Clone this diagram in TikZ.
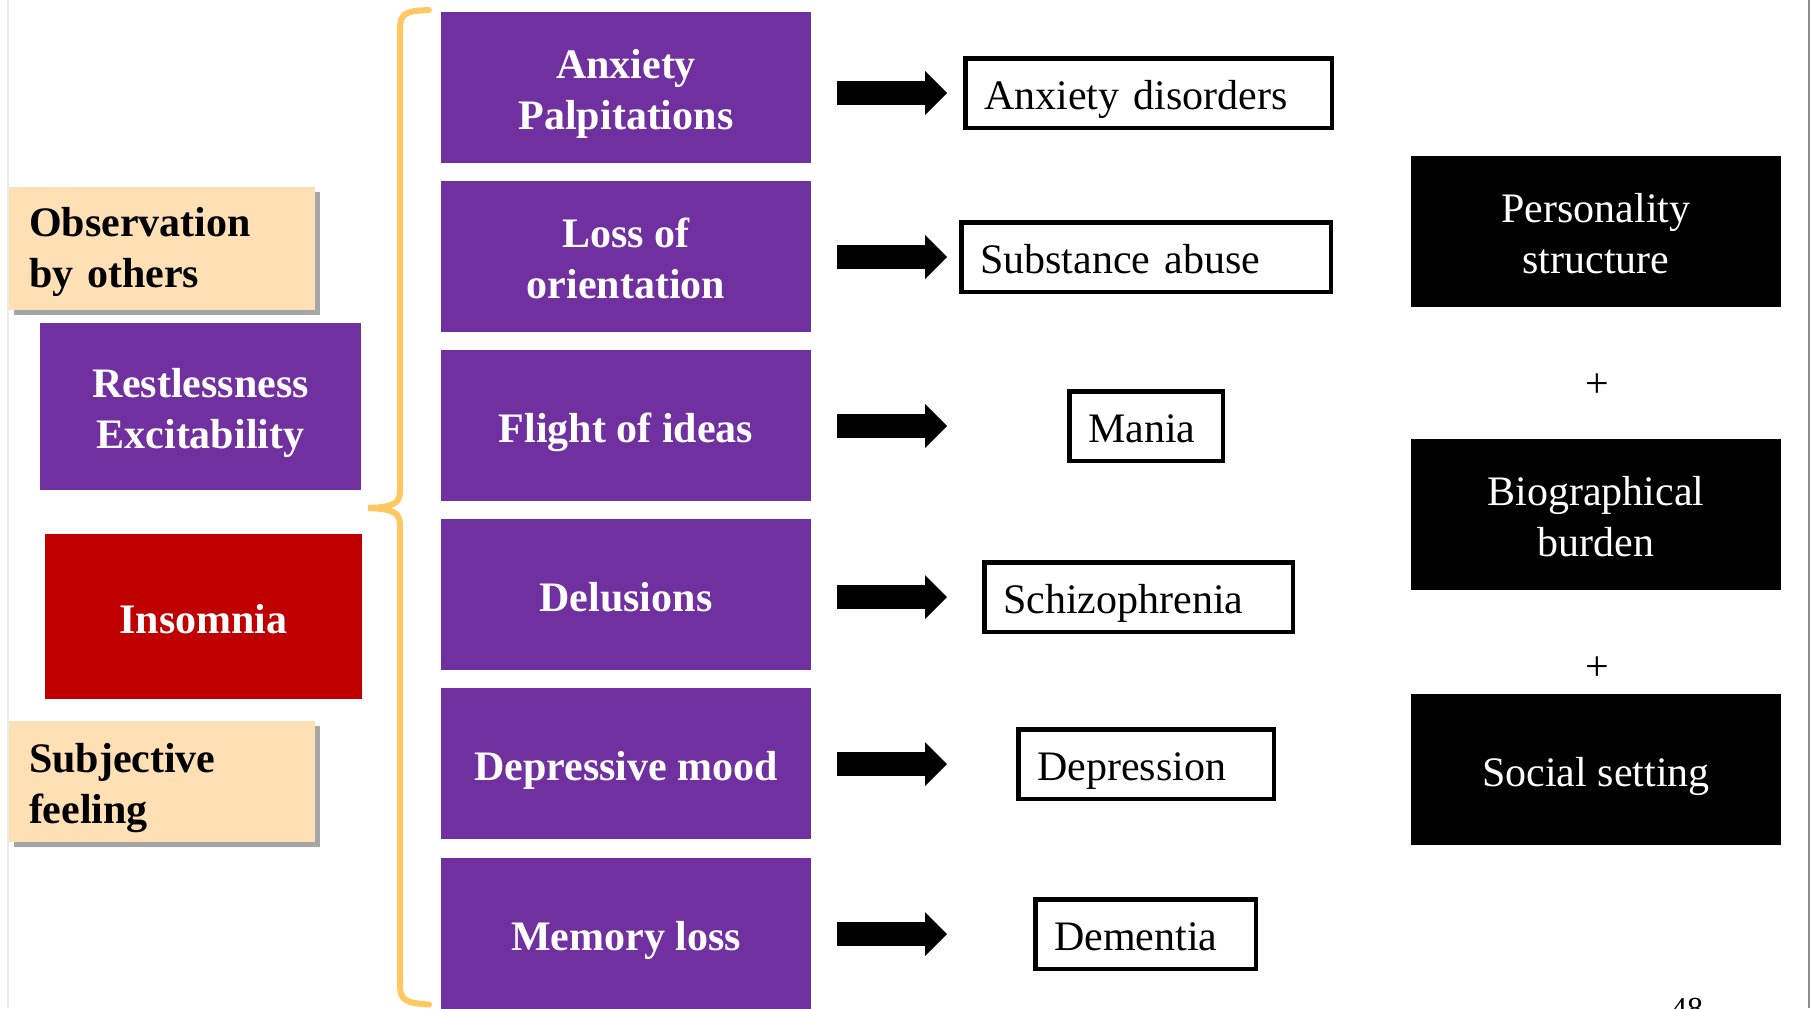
\documentclass[tikz,border=0pt]{standalone}
\usepackage{fontspec}
\setmainfont{Liberation Serif}
\usetikzlibrary{arrows.meta,shadows}
\definecolor{ppurple}{HTML}{7030A0}
\definecolor{pred}{HTML}{C00000}
\definecolor{ppeach}{HTML}{FEE0B4}
\definecolor{pgold}{HTML}{FFC75F}
\newcommand\tstrut{\rule{0pt}{1.02em}}
\newcommand\bstrut{\rule[-0.22em]{0pt}{0pt}}
\newcommand\obsstrut{\rule{0pt}{0.85em}}
\tikzset{
  bigfont/.style={font=\fontsize{21}{25.5}\selectfont\bfseries},
  regfont/.style={font=\fontsize{21}{25.5}\selectfont},
  peachbox/.style={bigfont, fill=ppeach, text=black, align=left, inner xsep=10pt, inner ysep=0pt,
     minimum width=153pt, text width=133pt,
     drop shadow={shadow xshift=2.5pt, shadow yshift=-2.5pt, fill=black, opacity=0.35}},
  symbox/.style={bigfont, fill=ppurple, text=white, align=center, inner sep=0pt,
     minimum width=185pt, minimum height=75.5pt},
  disbox/.style={regfont, draw=black, line width=2.25pt, fill=white, align=left,
     inner xsep=9.4pt, inner ysep=0pt, minimum height=34.75pt},
  factbox/.style={regfont, fill=black, text=white, align=center, inner sep=0pt,
     minimum width=185pt, minimum height=75.5pt},
  bigarrow/.style={line width=12pt, -{Triangle[length=11pt, width=22pt, line width=0pt]}},
  plussign/.style={regfont, inner sep=0pt}
}
\begin{document}
\begin{tikzpicture}[x=0.5pt, y=-0.5pt]
\useasboundingbox (0,0) rectangle (1810,1008);
% slide edges
\draw[black!8, line width=0.6pt] (8,0) -- (8,1008);
\draw[black!45, line width=0.8pt] (1809,0) -- (1809,1008);

% left column
\node[peachbox, minimum height=61.5pt] (obs) at (162,248.5) {\obsstrut Observation\\by others\bstrut};
\node[symbox, minimum width=160.5pt, minimum height=83.5pt] (rest) at (200.5,406.5) {\tstrut Restlessness\\Excitability\bstrut};
\node[symbox, fill=pred, minimum width=158.5pt, minimum height=82.5pt] (insom) at (203.5,616.5) {\tstrut Insomnia\bstrut};
\node[peachbox, minimum height=60.5pt] (subj) at (162,781.5) {\tstrut Subjective\\feeling\bstrut};

% brace
\draw[pgold, line width=3pt, line cap=round]
  (429,10) .. controls (405,11) and (400,13) .. (400,30) -- (400,490)
  .. controls (400,503) and (395,507) .. (368,508)
  .. controls (395,509) and (400,513) .. (400,526) -- (400,985)
  .. controls (400,1000) and (405,1003) .. (429,1004.5);

% symptom column
\node[symbox] (s1) at (626,87.5) {\tstrut Anxiety\\Palpitations\bstrut};
\node[symbox] (s2) at (626,256.5) {\tstrut Loss of\\orientation\bstrut};
\node[symbox] (s3) at (626,425.5) {\tstrut Flight of ideas\bstrut};
\node[symbox] (s4) at (626,594.5) {\tstrut Delusions\bstrut};
\node[symbox] (s5) at (626,763.5) {\tstrut Depressive mood\bstrut};
\node[symbox] (s6) at (626,933.5) {\tstrut Memory loss\bstrut};

% disorder column
\node[disbox, minimum width=183.25pt, text width=164.45pt] (d1) at (1148.5,93) {\tstrut Anxiety disorders\bstrut};
\node[disbox, minimum width=184.75pt, text width=165.95pt] (d2) at (1146,257) {\tstrut Substance abuse\bstrut};
\node[disbox, minimum width=76.75pt, text width=57.95pt] (d3) at (1146,426) {\tstrut Mania\bstrut};
\node[disbox, minimum width=154.25pt, text width=135.45pt] (d4) at (1138.5,597) {\tstrut Schizophrenia\bstrut};
\node[disbox, minimum width=127.75pt, text width=108.95pt] (d5) at (1146,764) {\tstrut Depression\bstrut};
\node[disbox, minimum width=110.25pt, text width=91.45pt] (d6) at (1145.5,934) {\tstrut Dementia\bstrut};

% arrows
\coordinate (as) at (837,0);
\coordinate (ae) at (947,0);
\foreach \i in {1,...,6}{
  \draw[bigarrow] (d\i.west -| as) -- (d\i.west -| ae);
}

% factors
\node[factbox] (f1) at (1596,231.5) {\tstrut Personality\\structure\bstrut};
\node[plussign] (p1) at (1597,386) {+};
\node[factbox] (f2) at (1596,514.5) {\tstrut Biographical\\burden\bstrut};
\node[plussign] (p2) at (1597,669) {+};
\node[factbox] (f3) at (1596,769.5) {\tstrut Social setting\bstrut};

% page number
\node[font=\fontsize{16}{18}\selectfont, anchor=base, inner sep=0pt] (pg) at (1687,1019) {48};
\end{tikzpicture}
\end{document}
